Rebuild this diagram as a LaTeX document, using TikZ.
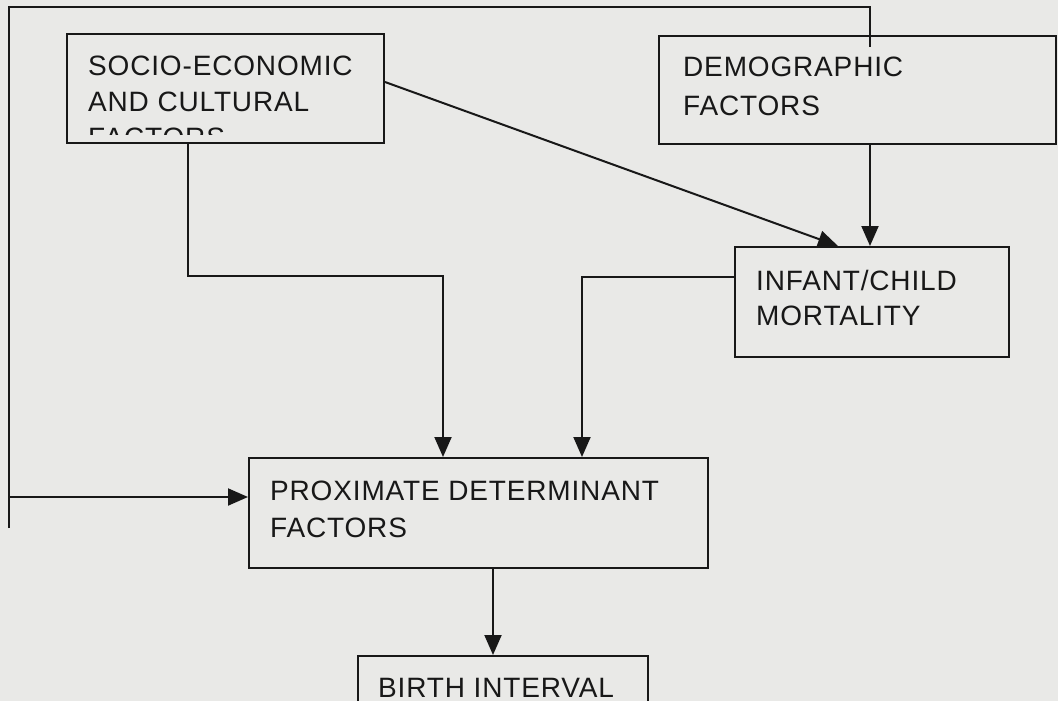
\documentclass[tikz,border=0pt]{standalone}
\usepackage{fontspec}
\setmainfont[LetterSpace=3]{Liberation Sans}
\usetikzlibrary{arrows.meta,calc}
\definecolor{paper}{RGB}{233,233,231}
\definecolor{ink}{RGB}{24,24,24}
\begin{document}
\begin{tikzpicture}[x=1pt,y=-1pt,
  box/.style={draw=ink,line width=2pt,anchor=north west,inner sep=0pt},
  lbl/.style={anchor=base west,inner sep=0pt,text=ink,font=\fontsize{28}{32}\selectfont},
  conn/.style={draw=ink,line width=2pt},
  arr/.style={conn,-{Triangle[length=20pt,width=17pt]}}]
\fill[paper] (0,0) rectangle (1058,701);
\clip (0,0) rectangle (1058,701);
% boxes
\node[box,minimum width=317pt,minimum height=109pt] (soc) at (66,33) {};
\node[box,minimum width=397pt,minimum height=108pt] (dem) at (658,35) {};
\node[box,minimum width=274pt,minimum height=110pt] (inf) at (734,246) {};
\node[box,minimum width=459pt,minimum height=110pt] (prox) at (248,457) {};
\node[box,minimum width=290pt,minimum height=80pt] (birth) at (357,655) {};
% labels
\node[lbl] (t1) at (88,76) {SOCIO-ECONOMIC};
\node[lbl] (t2) at (88,111) {AND CULTURAL};
\begin{scope}
\clip (66,33) rectangle (383,134);
\node[lbl] (t3) at (88,147) {FACTORS};
\end{scope}
\node[lbl] (d1) at (683,77) {DEMOGRAPHIC};
\node[lbl] (d2) at (683,115) {FACTORS};
\node[lbl] (i1) at (756,290) {INFANT/CHILD};
\node[lbl] (i2) at (756,325) {MORTALITY};
\node[lbl] (p1) at (270,500) {PROXIMATE DETERMINANT};
\node[lbl] (p2) at (270,537) {FACTORS};
\node[lbl] (b1) at (378,697) {BIRTH INTERVAL};
% connectors
\coordinate (j1) at (188,276);
\coordinate (j2) at (582,277);
\coordinate (j3) at (493,567);
\coordinate (lb) at (9,528);
\coordinate (tl) at (9,7);
\coordinate (tr) at (870,7);
\coordinate (la) at (9,497);
\draw[arr] ($(soc.north east)+(0,49)$) -- ($(inf.north west)+(104,0)$);
\draw[arr] (tr |- dem.south) -- (tr |- inf.north);
\draw[arr] (soc.south west -| j1) -- (j1) -| ($(prox.north west)+(195,0)$);
\draw[arr] (inf.west |- j2) -- (j2) -- (j2 |- prox.north);
\draw[conn] (lb) -- (tl) -- (tr) -- ($(tr |- dem.north)+(0,12)$);
\draw[arr] (la) -- (la -| prox.west);
\draw[arr] (j3 |- prox.south) -- (j3 |- birth.north);
\end{tikzpicture}
\end{document}
